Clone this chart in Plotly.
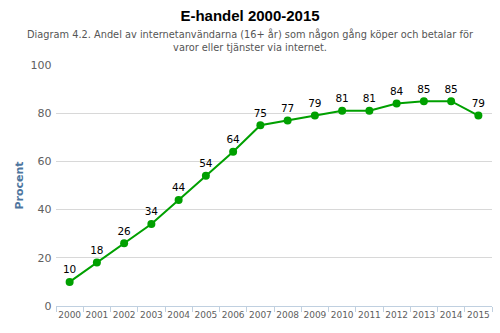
import plotly.graph_objects as go

years = [str(y) for y in range(2000, 2016)]
values = [10, 18, 26, 34, 44, 54, 64, 75, 77, 79, 81, 81, 84, 85, 85, 79]

fig = go.Figure()
fig.add_trace(go.Scatter(
    x=years, y=values, mode="lines+markers+text",
    text=[str(v) for v in values], textposition="top center",
    textfont=dict(family="DejaVu Sans", size=10.5, color="#000000"),
    line=dict(color="#00A000", width=2),
    marker=dict(color="#00A000", size=8),
    cliponaxis=False, showlegend=False,
))

fig.update_layout(
    width=500, height=333,
    margin=dict(l=56, r=8, t=65, b=27, autoexpand=False),
    paper_bgcolor="white", plot_bgcolor="white",
    font=dict(family="DejaVu Sans", color="#606060"),
    title=dict(
        text="<b>E-handel 2000-2015</b>",
        x=0.5, xanchor="center", y=1, yanchor="top", pad=dict(t=10),
        font=dict(family="Liberation Sans, Arial", size=15, color="#000000"),
    ),
    annotations=[dict(
        text="Diagram 4.2. Andel av internetanvändarna (16+ år) som någon gång köper och betalar för<br>varor eller tjänster via internet.",
        xref="paper", yref="paper", x=(250 - 56) / 436, y=1.0, xanchor="center", yanchor="bottom",
        yshift=10, showarrow=False, align="center",
        font=dict(family="DejaVu Sans", size=9.8, color="#555555"),
    )],
    xaxis=dict(
        type="category", range=[-0.5, 15.5],
        showgrid=False, showline=True, linecolor="#C0D0E0", linewidth=1,
        ticks="outside", tickson="boundaries", ticklen=5, tickcolor="#C0D0E0",
        tickangle=0, automargin=False,
        tickfont=dict(size=9, color="#606060"), zeroline=False,
    ),
    yaxis=dict(
        range=[0, 100], dtick=20, showgrid=True, gridcolor="#D8D8D8",
        zeroline=False, showline=False, automargin=False,
        tickfont=dict(size=11, color="#606060"), ticksuffix=" ",
        title=dict(text="<b>Procent</b>", font=dict(size=11, color="#4D759E"), standoff=4),
    ),
)

fig.write_html("out.html")
